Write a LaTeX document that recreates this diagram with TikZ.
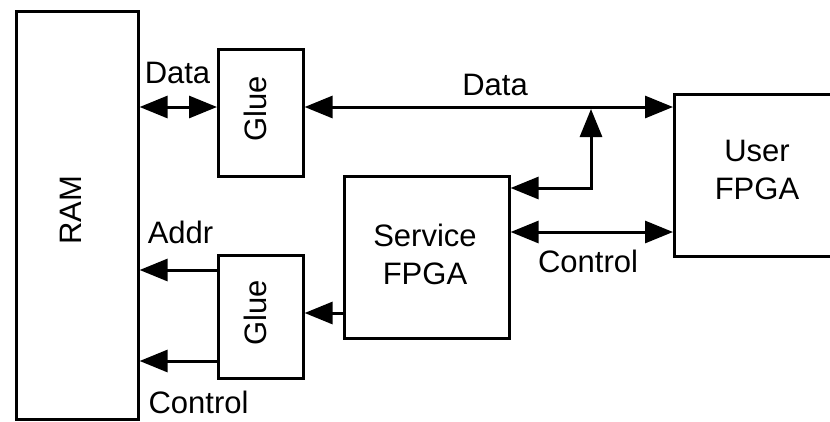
\documentclass[tikz,border=0pt]{standalone}
\usepackage{fontspec}
\setmainfont{Liberation Sans}
\usetikzlibrary{arrows.meta}
\begin{document}
\begin{tikzpicture}[x=1pt,y=1pt,
  box/.style={draw, line width=2.6pt, inner sep=0pt},
  txt/.style={font=\fontsize{31}{38}\selectfont, align=center, inner sep=0pt},
  conn/.style={line width=3pt, >={Triangle[length=28pt,width=22pt]}}]
\useasboundingbox (0,0) rectangle (830,-421);
\clip (0,0) rectangle (830,-421);
% boxes
\node[box, minimum width=122, minimum height=408, anchor=north west] (ram) at (15,-10) {};
\node[box, minimum width=85, minimum height=127, anchor=north west] (glue1) at (217,-48) {};
\node[box, minimum width=85, minimum height=123, anchor=north west] (glue2) at (217,-254) {};
\node[box, minimum width=165, minimum height=162, anchor=north west] (service) at (343,-175) {};
\node[box, minimum width=200, minimum height=162, anchor=north west] (user) at (673,-93) {};
% box texts
\node[txt, rotate=90] (ramtxt) at (71,-210) {RAM};
\node[txt, rotate=90] (glue1txt) at (255,-109) {Glue};
\node[txt, rotate=90] (glue2txt) at (255,-313) {Glue};
\node[txt] (servicetxt) at (425,-254) {Service\\FPGA};
\node[txt] (usertxt) at (757,-170) {User\\FPGA};
% levels
\coordinate (yd) at (0,-107);
\coordinate (yj) at (0,-188);
\coordinate (yc) at (0,-232);
\coordinate (ya) at (0,-270);
\coordinate (ys) at (0,-313);
\coordinate (yb) at (0,-361);
\coordinate (jt) at (591,-109);
% connectors
\draw[conn,<->] (ram.east |- yd) -- (glue1.west |- yd);
\draw[conn,<->] (glue1.east |- yd) -- (user.west |- yd);
\draw[conn,<->] (service.east |- yj) -| (jt);
\draw[conn,<->] (service.east |- yc) -- (user.west |- yc);
\draw[conn,->] (glue2.west |- ya) -- (ram.east |- ya);
\draw[conn,->] (glue2.west |- yb) -- (ram.east |- yb);
\draw[conn,->] (service.west |- ys) -- (glue2.east |- ys);
% labels
\node[txt, anchor=base] (ldata1) at (177.5,-83) {Data};
\node[txt, anchor=base] (ldata2) at (495,-95) {Data};
\node[txt, anchor=base] (lctrl1) at (588,-272) {Control};
\node[txt, anchor=base] (laddr) at (180.5,-243) {Addr};
\node[txt, anchor=base] (lctrl2) at (198.5,-413) {Control};
\end{tikzpicture}
\end{document}
